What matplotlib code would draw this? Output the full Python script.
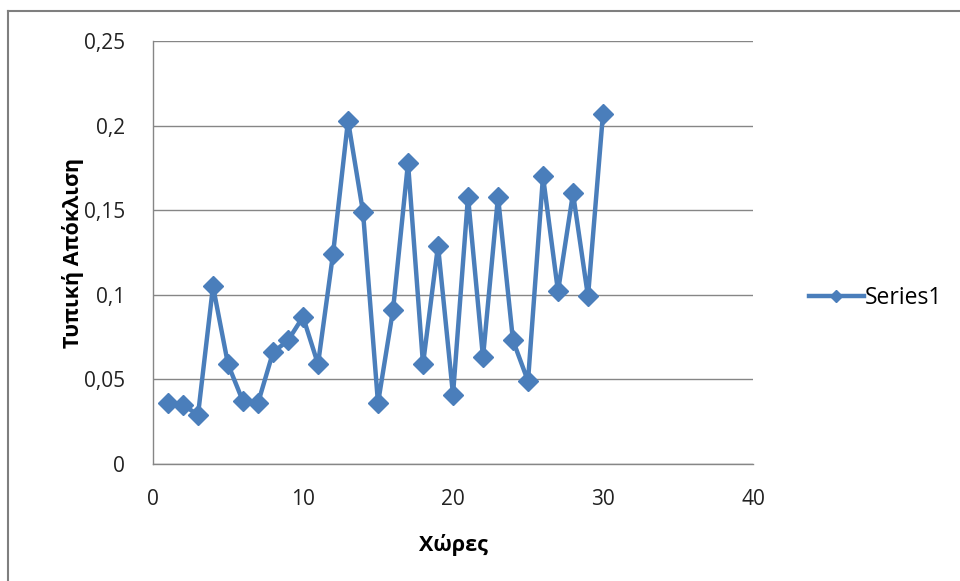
import matplotlib
matplotlib.use("Agg")
import matplotlib.pyplot as plt
from matplotlib.lines import Line2D
from matplotlib.ticker import FuncFormatter

countries = list(range(1, 31))
std_dev = [0.036, 0.035, 0.029, 0.105, 0.059, 0.037, 0.036, 0.066, 0.073, 0.087,
           0.059, 0.124, 0.203, 0.149, 0.036, 0.091, 0.178, 0.059, 0.129, 0.041,
           0.158, 0.063, 0.158, 0.073, 0.049, 0.170, 0.102, 0.160, 0.099, 0.207]
series_name = "Series1"
x_label = "Χώρες"
y_label = "Τυπική Απόκλιση"

plt.rcParams['font.family'] = ['Open Sans', 'DejaVu Sans']

fig = plt.figure(figsize=(9.6, 5.81), dpi=100)
ax = fig.add_axes([153 / 960, 1 - 464 / 581, 600 / 960, 423 / 581])

color = '#4A7EBB'
ax.plot(countries, std_dev, color=color, lw=3.2, marker='D', markersize=10,
        markerfacecolor=color, markeredgecolor=color, zorder=3, clip_on=False)

ax.set_xlim(0, 40)
ax.set_ylim(0, 0.25)
ax.set_xticks([0, 10, 20, 30, 40])
ax.set_yticks([0, 0.05, 0.1, 0.15, 0.2, 0.25])
ax.yaxis.set_major_formatter(FuncFormatter(lambda v, p: ('%g' % round(v, 3)).replace('.', ',')))
ax.grid(axis='y', color='#868686', lw=1)
ax.set_axisbelow(True)
for s in ['top', 'right']:
    ax.spines[s].set_visible(False)
for s in ['left', 'bottom']:
    ax.spines[s].set_color('#868686')
    ax.spines[s].set_linewidth(1)
ax.tick_params(length=0, labelsize=15, colors='#222222')
ax.tick_params(axis='x', pad=18)
ax.tick_params(axis='y', pad=20)
ax.set_xlabel(x_label, fontsize=15.5, fontweight='bold', labelpad=17)
ax.set_ylabel(y_label, fontsize=15.5, fontweight='bold', labelpad=0)

handle = Line2D([], [], color=color, lw=3.2, marker='D', markersize=6.5)
fig.legend([handle], [series_name], loc='center left', bbox_to_anchor=(788 / 960, 1 - 298 / 581),
           frameon=False, fontsize=16.5, handlelength=2.4, handletextpad=0.05)

# outer chart border (top and left visible)
fig.add_artist(Line2D([8 / 960, 8 / 960], [0, 1 - 11 / 581], transform=fig.transFigure, color='#7f7f7f', lw=1.5))
fig.add_artist(Line2D([8 / 960, 1], [1 - 11 / 581, 1 - 11 / 581], transform=fig.transFigure, color='#7f7f7f', lw=1.5))

fig.savefig('out.png', dpi=100)
